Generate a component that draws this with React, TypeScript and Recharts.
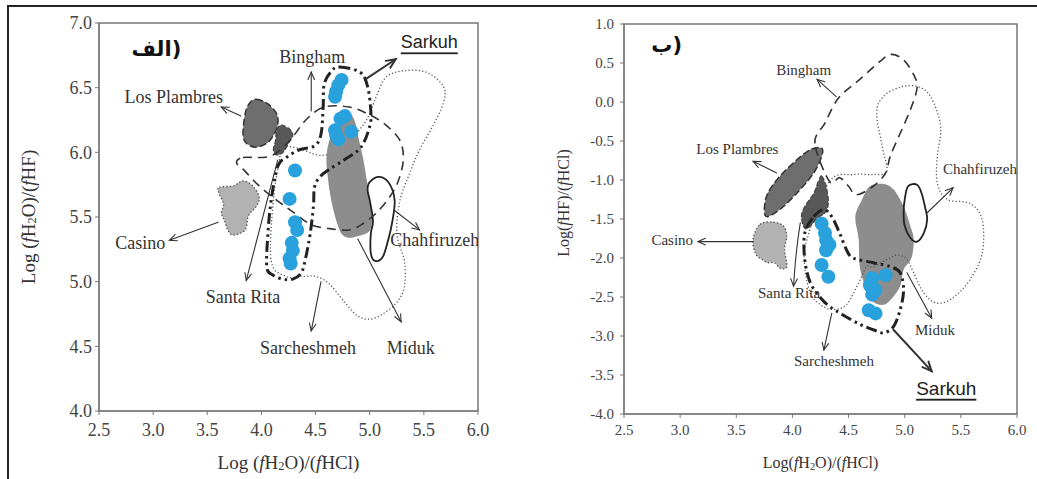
import React from 'react';
import { ScatterChart, Scatter, XAxis, YAxis, ReferenceArea } from 'recharts';

type Pair = [number, number];

// ---------- shared ticks ----------
const xTicks = [2.5, 3.0, 3.5, 4.0, 4.5, 5.0, 5.5, 6.0];
const yTicksA = [4.0, 4.5, 5.0, 5.5, 6.0, 6.5, 7.0];
const yTicksB = [-4.0, -3.5, -3.0, -2.5, -2.0, -1.5, -1.0, -0.5, 0.0, 0.5, 1.0];

// ---------- panel A (Log fH2O/fHF vs Log fH2O/fHCl) ----------
const sarkuhDotsA: Pair[] = [
  [4.74, 6.56], [4.71, 6.52], [4.69, 6.47], [4.68, 6.43],
  [4.73, 6.26], [4.77, 6.28], [4.69, 6.13], [4.71, 6.10], [4.83, 6.16], [4.68, 6.17],
  [4.31, 5.86], [4.26, 5.64], [4.31, 5.46], [4.33, 5.40],
  [4.28, 5.30], [4.29, 5.24], [4.26, 5.18], [4.27, 5.14],
];
const losPlambresA: Pair[] = [[3.95, 6.41], [4.05, 6.38], [4.14, 6.30], [4.15, 6.21], [4.11, 6.13], [4.05, 6.07], [3.95, 6.04], [3.86, 6.07], [3.83, 6.14], [3.85, 6.30], [3.89, 6.38]];
const santaRitaA: Pair[] = [[4.18, 6.21], [4.26, 6.18], [4.29, 6.13], [4.25, 6.07], [4.20, 6.00], [4.14, 5.98], [4.11, 6.02], [4.13, 6.09], [4.14, 6.17]];
const casinoA: Pair[] = [[3.61, 5.73], [3.74, 5.74], [3.83, 5.78], [3.92, 5.74], [3.98, 5.65], [3.95, 5.58], [3.88, 5.51], [3.85, 5.40], [3.74, 5.36], [3.69, 5.40], [3.66, 5.47], [3.63, 5.53], [3.65, 5.60], [3.61, 5.68]];
const midukA: Pair[] = [[4.76, 6.31], [4.83, 6.29], [4.87, 6.22], [4.90, 6.10], [4.94, 5.95], [4.97, 5.80], [5.00, 5.65], [5.02, 5.50], [5.01, 5.41], [4.96, 5.37], [4.88, 5.35], [4.80, 5.34], [4.74, 5.37], [4.70, 5.45], [4.66, 5.57], [4.63, 5.70], [4.61, 5.83], [4.60, 5.95], [4.62, 6.07], [4.67, 6.18], [4.71, 6.26]];
const chahfiruzehA: Pair[] = [[5.0, 5.77], [5.09, 5.81], [5.18, 5.76], [5.23, 5.63], [5.21, 5.47], [5.17, 5.32], [5.12, 5.19], [5.05, 5.16], [5.01, 5.22], [5.01, 5.37], [5.03, 5.47], [5.0, 5.63], [4.98, 5.71]];
const binghamA: Pair[] = [[3.83, 5.96], [4.08, 5.97], [4.26, 6.09], [4.41, 6.25], [4.58, 6.35], [4.81, 6.35], [5.0, 6.29], [5.15, 6.21], [5.28, 6.09], [5.31, 5.94], [5.26, 5.77], [5.18, 5.65], [5.06, 5.53], [4.94, 5.45], [4.81, 5.40], [4.63, 5.41], [4.46, 5.44], [4.29, 5.54], [4.14, 5.63], [3.98, 5.74], [3.83, 5.87], [3.77, 5.92]];
const sarcheshmehA: Pair[] = [[4.20, 6.04], [4.35, 6.03], [4.51, 5.98], [4.63, 5.99], [4.81, 6.09], [4.97, 6.25], [5.06, 6.43], [5.15, 6.58], [5.31, 6.63], [5.52, 6.62], [5.68, 6.51], [5.68, 6.38], [5.58, 6.20], [5.46, 6.02], [5.37, 5.84], [5.28, 5.63], [5.25, 5.37], [5.32, 5.16], [5.32, 4.96], [5.25, 4.84], [5.12, 4.75], [5.0, 4.71], [4.88, 4.74], [4.75, 4.86], [4.63, 4.98], [4.51, 5.04], [4.38, 5.04], [4.23, 5.04], [4.09, 5.16], [4.11, 5.63], [4.17, 5.96]];
const sarkuhFieldA: Pair[] = [[4.72, 6.66], [4.91, 6.62], [4.98, 6.51], [5.01, 6.32], [5.0, 6.20], [4.92, 6.04], [4.78, 5.95], [4.63, 5.87], [4.54, 5.81], [4.49, 5.73], [4.48, 5.58], [4.45, 5.37], [4.41, 5.19], [4.37, 5.07], [4.29, 5.02], [4.20, 5.02], [4.11, 5.05], [4.05, 5.11], [4.06, 5.37], [4.09, 5.63], [4.15, 5.89], [4.23, 5.96], [4.35, 6.02], [4.49, 6.05], [4.55, 6.14], [4.57, 6.35], [4.58, 6.53], [4.65, 6.63]];
const arrowsA: Pair[][] = [
  [[4.46, 6.32], [4.46, 6.62]],
  [[3.81, 6.28], [3.63, 6.35]],
  [[3.60, 5.46], [3.15, 5.32]],
  [[4.15, 5.94], [3.86, 5.01]],
  [[4.55, 5.0], [4.46, 4.62]],
  [[4.89, 5.33], [5.29, 4.69]],
  [[5.23, 5.55], [5.46, 5.40]],
];
const sarkuhArrowA: Pair[] = [[4.97, 6.57], [5.24, 6.72]];
const labelsA = [
  { name: 'Bingham', x: 4.47, y: 6.74 },
  { name: 'Los Plambres', x: 3.19, y: 6.43 },
  { name: 'Casino', x: 2.88, y: 5.30 },
  { name: 'Santa Rita', x: 3.83, y: 4.88 },
  { name: 'Sarcheshmeh', x: 4.43, y: 4.49 },
  { name: 'Miduk', x: 5.38, y: 4.49 },
  { name: 'Chahfiruzeh', x: 5.60, y: 5.32 },
];
const sarkuhLabelA = [{ name: 'Sarkuh', x: 5.55, y: 6.85 }];
const panelLabelA = [{ name: 'الف)', x: 3.03, y: 6.80 }];

// ---------- panel B (Log fHF/fHCl vs Log fH2O/fHCl) ----------
const sarkuhDotsB: Pair[] = [
  [4.26, -1.56], [4.29, -1.68], [4.30, -1.77], [4.33, -1.83], [4.30, -1.90],
  [4.26, -2.09], [4.32, -2.24],
  [4.71, -2.26], [4.83, -2.22], [4.74, -2.41], [4.71, -2.47], [4.69, -2.35],
  [4.68, -2.67], [4.74, -2.71],
];
const losPlambresB: Pair[] = [[4.26, -0.59], [4.26, -0.70], [4.19, -0.91], [4.07, -1.12], [3.92, -1.34], [3.78, -1.47], [3.75, -1.38], [3.78, -1.17], [3.89, -0.95], [4.04, -0.74], [4.16, -0.61]];
const santaRitaB: Pair[] = [[4.26, -0.95], [4.30, -1.08], [4.32, -1.29], [4.29, -1.42], [4.22, -1.49], [4.16, -1.59], [4.11, -1.62], [4.08, -1.47], [4.11, -1.34], [4.19, -1.17], [4.23, -1.02]];
const casinoB: Pair[] = [[3.71, -1.57], [3.83, -1.54], [3.92, -1.59], [3.95, -1.72], [3.93, -1.89], [3.95, -2.11], [3.89, -2.13], [3.84, -2.06], [3.78, -2.06], [3.73, -2.02], [3.67, -1.94], [3.65, -1.76]];
const midukB: Pair[] = [[4.69, -1.08], [4.81, -1.05], [4.90, -1.12], [4.99, -1.34], [5.05, -1.59], [5.08, -1.76], [5.06, -2.0], [4.99, -2.15], [4.96, -2.36], [4.88, -2.53], [4.81, -2.60], [4.72, -2.56], [4.66, -2.41], [4.60, -2.11], [4.59, -1.76], [4.56, -1.47], [4.62, -1.25]];
const chahfiruzehB: Pair[] = [[5.03, -1.08], [5.11, -1.06], [5.15, -1.17], [5.18, -1.34], [5.20, -1.51], [5.17, -1.68], [5.11, -1.79], [5.05, -1.74], [5.0, -1.59], [4.99, -1.42], [5.0, -1.25]];
const binghamB: Pair[] = [[4.20, -0.53], [4.29, -0.27], [4.41, 0.05], [4.60, 0.29], [4.78, 0.52], [4.88, 0.61], [4.99, 0.54], [5.08, 0.35], [5.11, 0.18], [5.05, -0.10], [4.96, -0.40], [4.87, -0.70], [4.83, -0.91], [4.72, -1.08], [4.57, -1.19], [4.50, -1.08], [4.42, -0.97], [4.33, -1.02]];
const sarcheshmehB: Pair[] = [[4.33, -1.02], [4.54, -0.93], [4.72, -0.93], [4.84, -0.89], [4.80, -0.57], [4.75, -0.14], [4.81, 0.07], [4.96, 0.19], [5.11, 0.20], [5.23, 0.07], [5.32, -0.31], [5.29, -0.70], [5.29, -1.04], [5.38, -1.25], [5.58, -1.30], [5.69, -1.51], [5.69, -1.94], [5.58, -2.28], [5.43, -2.51], [5.29, -2.58], [5.17, -2.45], [5.08, -2.19], [5.02, -2.02], [4.94, -1.96], [4.87, -2.0], [4.72, -2.11], [4.66, -2.11], [4.59, -2.32], [4.48, -2.60], [4.36, -2.66], [4.25, -2.60], [4.16, -2.45], [4.11, -2.11], [4.13, -1.76]];
const sarkuhFieldB: Pair[] = [[4.19, -1.47], [4.28, -1.38], [4.35, -1.47], [4.42, -1.68], [4.48, -1.89], [4.54, -2.0], [4.72, -2.06], [4.87, -2.11], [4.96, -2.19], [4.99, -2.41], [4.96, -2.66], [4.90, -2.88], [4.81, -2.96], [4.72, -2.92], [4.60, -2.85], [4.45, -2.73], [4.33, -2.62], [4.25, -2.51], [4.16, -2.32], [4.11, -2.02], [4.11, -1.68]];
const arrowsB: Pair[][] = [
  [[4.39, 0.07], [4.22, 0.29]],
  [[3.86, -0.91], [3.65, -0.76]],
  [[3.65, -1.79], [3.16, -1.79]],
  [[4.07, -1.55], [4.03, -1.90], [4.01, -2.36]],
  [[4.35, -2.71], [4.28, -3.18]],
  [[5.02, -2.19], [5.24, -2.77]],
  [[5.20, -1.42], [5.43, -1.10]],
];
const sarkuhArrowB: Pair[] = [[4.90, -2.92], [5.24, -3.45]];
const labelsB = [
  { name: 'Bingham', x: 4.10, y: 0.41 },
  { name: 'Los Plambres', x: 3.51, y: -0.60 },
  { name: 'Chahfiruzeh', x: 5.67, y: -0.86 },
  { name: 'Casino', x: 2.93, y: -1.77 },
  { name: 'Santa Rita', x: 3.97, y: -2.45 },
  { name: 'Miduk', x: 5.27, y: -2.92 },
  { name: 'Sarcheshmeh', x: 4.37, y: -3.32 },
];
const sarkuhLabelB = [{ name: 'Sarkuh', x: 5.37, y: -3.67 }];
const panelLabelB = [{ name: 'ب)', x: 2.88, y: 0.73 }];

// ---------- helpers ----------
const toObj = (pts: Pair[]) => pts.map(([x, y]) => ({ x, y }));
const SERIF = '"Liberation Serif", "DejaVu Serif", serif';
const SANS = '"Liberation Sans", Arial, sans-serif';
const DOT = '#29a1dc';

function closedPath(pts: { x: number; y: number }[]) {
  const n = pts.length;
  if (!n) return '';
  let d = `M${pts[0].x},${pts[0].y}`;
  const t = 1 / 6;
  for (let i = 0; i < n; i++) {
    const p0 = pts[(i - 1 + n) % n];
    const p1 = pts[i];
    const p2 = pts[(i + 1) % n];
    const p3 = pts[(i + 2) % n];
    const c1x = p1.x + (p2.x - p0.x) * t;
    const c1y = p1.y + (p2.y - p0.y) * t;
    const c2x = p2.x - (p3.x - p1.x) * t;
    const c2y = p2.y - (p3.y - p1.y) * t;
    d += ` C${c1x},${c1y} ${c2x},${c2y} ${p2.x},${p2.y}`;
  }
  return d + 'Z';
}

const Empty = () => <g />;

function region(key: string, pts: Pair[], style: any) {
  return (
    <Scatter
      key={key}
      data={toObj(pts)}
      isAnimationActive={false}
      shape={Empty}
      line={(lp: any) => <path d={closedPath(lp.points || [])} {...style} />}
    />
  );
}

function arrow(key: string, pts: Pair[], width: number, head: number) {
  return (
    <Scatter
      key={key}
      data={toObj(pts)}
      isAnimationActive={false}
      shape={Empty}
      line={(lp: any) => {
        const p = lp.points || [];
        if (p.length < 2) return <g />;
        const a = p[p.length - 2];
        const b = p[p.length - 1];
        const ang = Math.atan2(b.y - a.y, b.x - a.x);
        const h1 = { x: b.x - head * Math.cos(ang - 0.42), y: b.y - head * Math.sin(ang - 0.42) };
        const h2 = { x: b.x - head * Math.cos(ang + 0.42), y: b.y - head * Math.sin(ang + 0.42) };
        let d = `M${p[0].x},${p[0].y}`;
        if (p.length === 3) {
          d += ` Q${p[1].x},${p[1].y} ${b.x},${b.y}`;
        } else {
          for (let i = 1; i < p.length; i++) d += ` L${p[i].x},${p[i].y}`;
        }
        return (
          <g stroke="#333" fill="none" strokeWidth={width} strokeLinecap="round">
            <path d={d} />
            <path d={`M${h1.x},${h1.y} L${b.x},${b.y} L${h2.x},${h2.y}`} strokeLinejoin="miter" />
          </g>
        );
      }}
    />
  );
}

function labels(key: string, data: any[], fs: number, family: string, extra: any = {}) {
  return (
    <Scatter
      key={key}
      data={data}
      isAnimationActive={false}
      shape={(p: any) => (
        <text
          x={p.cx}
          y={p.cy}
          textAnchor="middle"
          dominantBaseline="central"
          fontSize={fs}
          fontFamily={family}
          fill="#333"
          {...extra}
        >
          {p.payload?.name}
        </text>
      )}
    />
  );
}

function dots(key: string, pts: Pair[], r: number) {
  return (
    <Scatter
      key={key}
      data={toObj(pts)}
      isAnimationActive={false}
      shape={(p: any) => <circle cx={p.cx} cy={p.cy} r={r} fill={DOT} />}
    />
  );
}

const fmt = (v: number) => v.toFixed(1);

function AxisTitle({ vertical, ratio, fs, spaced, cx, cy }: any) {
  const f = (s: string) => <tspan fontStyle="italic">{s}</tspan>;
  const sub = fs * 0.65;
  const content = (
    <>
      <tspan>{spaced ? 'Log (' : 'Log('}</tspan>
      {f('f')}
      <tspan>{ratio[0]}</tspan>
      {ratio[0] === 'H' ? (
        <>
          <tspan fontSize={sub} dy={fs * 0.22}>2</tspan>
          <tspan dy={-fs * 0.22}>O)/(</tspan>
        </>
      ) : (
        <tspan>)/(</tspan>
      )}
      {f('f')}
      <tspan>{ratio[1]})</tspan>
    </>
  );
  return (
    <text
      x={cx}
      y={cy}
      transform={vertical ? `rotate(-90 ${cx} ${cy})` : undefined}
      textAnchor="middle"
      dominantBaseline="central"
      fontSize={fs}
      fontFamily={SERIF}
      fill="#333"
    >
      {content}
    </text>
  );
}

const dashDot = { fill: 'none', stroke: '#222', strokeWidth: 3, strokeDasharray: '11 4 2.5 4 2.5 4', strokeLinecap: 'butt' };
const dashed = { fill: 'none', stroke: '#333', strokeWidth: 1.6, strokeDasharray: '9 6' };
const dotted = { fill: 'none', stroke: '#555', strokeWidth: 1.3, strokeDasharray: '1.2 2.2' };

export default function App() {
  return (
    <div style={{ position: 'absolute', left: 0, top: 0, width: 1037, height: 479, background: '#fff', overflow: 'hidden' }}>
      <div style={{ position: 'absolute', left: 7, top: 5, width: 1040, height: 480, borderTop: '2px solid #222', borderLeft: '2px solid #222' }} />

      {/* Panel A */}
      <div style={{ position: 'absolute', left: 0, top: 0 }}>
        <ScatterChart width={520} height={479} margin={{ top: 23, right: 42, bottom: 38, left: 39 }}>
          <XAxis
            type="number"
            dataKey="x"
            domain={[2.5, 6]}
            ticks={xTicks}
            tickFormatter={fmt}
            allowDataOverflow
            height={30}
            tickSize={4}
            tickMargin={8}
            stroke="#777"
            tick={{ fill: '#444', fontSize: 18, fontFamily: SERIF }}
            label={(p: any) => {
              const vb = p.viewBox || { x: 99, y: 411, width: 379, height: 30 };
              return <AxisTitle ratio={['H', 'HCl']} fs={19} spaced cx={vb.x + vb.width / 2} cy={vb.y + 51} />;
            }}
          />
          <YAxis
            type="number"
            dataKey="y"
            domain={[4, 7]}
            ticks={yTicksA}
            tickFormatter={fmt}
            allowDataOverflow
            width={60}
            tickSize={4}
            tickMargin={3}
            stroke="#777"
            tick={{ fill: '#444', fontSize: 18, fontFamily: SERIF }}
            label={(p: any) => {
              const vb = p.viewBox || { x: 39, y: 23, width: 60, height: 388 };
              return <AxisTitle vertical ratio={['H', 'HF']} fs={19} spaced cx={vb.x - 11} cy={vb.y + vb.height / 2} />;
            }}
          />
          <ReferenceArea x1={2.5} x2={6} y1={4} y2={7} fill="none" stroke="#777" strokeWidth={1.5} ifOverflow="visible" />
          {region('sarchA', sarcheshmehA, dotted)}
          {region('midukA', midukA, { fill: '#8d8d8d', stroke: 'none' })}
          {region('losA', losPlambresA, { fill: '#6e6e6e', stroke: '#333', strokeWidth: 1.5, strokeDasharray: '7 3' })}
          {region('srA', santaRitaA, { fill: '#585858', stroke: '#444', strokeWidth: 1.2, strokeDasharray: '5 2' })}
          {region('casA', casinoA, { fill: '#b2b2b2', stroke: '#555', strokeWidth: 1.3, strokeDasharray: '1.5 2' })}
          {region('chahA', chahfiruzehA, { fill: '#fff', stroke: '#222', strokeWidth: 1.8 })}
          {region('bingA', binghamA, dashed)}
          {region('sarkA', sarkuhFieldA, dashDot)}
          {dots('dotsA', sarkuhDotsA, 7)}
          {arrowsA.map((a, i) => arrow(`arA${i}`, a, 1.1, 8))}
          {arrow('arSarkA', sarkuhArrowA, 2, 10)}
          {labels('labA', labelsA, 18, SERIF)}
          {labels('sarkLabA', sarkuhLabelA, 18, SANS, { textDecoration: 'underline', fill: '#222' })}
          {labels('panelA', panelLabelA, 21, '"DejaVu Sans", sans-serif', { fontWeight: 700, fill: '#111' })}
        </ScatterChart>
      </div>

      {/* Panel B */}
      <div style={{ position: 'absolute', left: 520, top: 0 }}>
        <ScatterChart width={517} height={479} margin={{ top: 24, right: 20, bottom: 35, left: 44 }}>
          <XAxis
            type="number"
            dataKey="x"
            domain={[2.5, 6]}
            ticks={xTicks}
            tickFormatter={fmt}
            allowDataOverflow
            height={30}
            tickSize={4}
            tickMargin={6}
            stroke="#777"
            tick={{ fill: '#444', fontSize: 15, fontFamily: SERIF }}
            label={(p: any) => {
              const vb = p.viewBox || { x: 104, y: 414, width: 393, height: 30 };
              return <AxisTitle ratio={['H', 'HCl']} fs={16} cx={vb.x + vb.width / 2} cy={vb.y + 48} />;
            }}
          />
          <YAxis
            type="number"
            dataKey="y"
            domain={[-4, 1]}
            ticks={yTicksB}
            tickFormatter={fmt}
            allowDataOverflow
            width={60}
            tickSize={4}
            tickMargin={6}
            stroke="#777"
            tick={{ fill: '#444', fontSize: 15, fontFamily: SERIF }}
            label={(p: any) => {
              const vb = p.viewBox || { x: 44, y: 24, width: 60, height: 390 };
              return <AxisTitle vertical ratio={['HF', 'HCl']} fs={16} cx={vb.x - 1} cy={vb.y + vb.height / 2 - 16} />;
            }}
          />
          <ReferenceArea x1={2.5} x2={6} y1={-4} y2={1} fill="none" stroke="#777" strokeWidth={1.5} ifOverflow="visible" />
          {region('midukB', midukB, { fill: '#8d8d8d', stroke: 'none' })}
          {region('sarchB', sarcheshmehB, dotted)}
          {region('losB', losPlambresB, { fill: '#6e6e6e', stroke: '#333', strokeWidth: 1.5, strokeDasharray: '7 3' })}
          {region('srB', santaRitaB, { fill: '#585858', stroke: '#444', strokeWidth: 1.2, strokeDasharray: '5 2' })}
          {region('casB', casinoB, { fill: '#b2b2b2', stroke: '#555', strokeWidth: 1.3, strokeDasharray: '1.5 2' })}
          {region('chahB', chahfiruzehB, { fill: 'none', stroke: '#222', strokeWidth: 1.8 })}
          {region('bingB', binghamB, dashed)}
          {region('sarkB', sarkuhFieldB, dashDot)}
          {dots('dotsB', sarkuhDotsB, 7)}
          {arrowsB.map((a, i) => arrow(`arB${i}`, a, 1.1, 8))}
          {arrow('arSarkB', sarkuhArrowB, 2, 10)}
          {labels('labB', labelsB, 15, SERIF)}
          {labels('sarkLabB', sarkuhLabelB, 19, SANS, { textDecoration: 'underline', fill: '#222' })}
          {labels('panelB', panelLabelB, 21, '"DejaVu Sans", sans-serif', { fontWeight: 700, fill: '#111' })}
        </ScatterChart>
      </div>
    </div>
  );
}
